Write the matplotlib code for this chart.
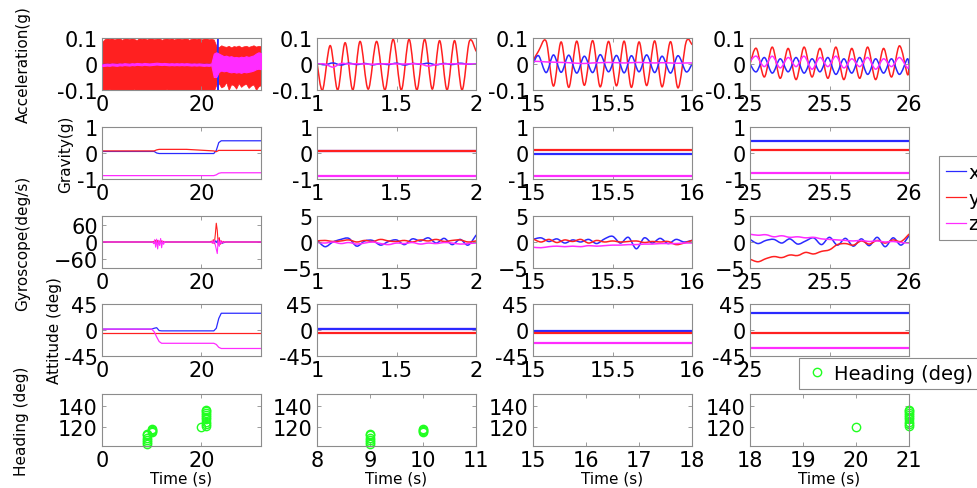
import numpy as np
import matplotlib
matplotlib.use('Agg')
import matplotlib.pyplot as plt
from matplotlib.path import Path
from matplotlib.patches import PathPatch

plt.rcParams['font.family'] = ['DejaVu Sans']

C_X = '#2a2aff'
C_Y = '#ff2020'
C_Z = '#ff2cff'
C_H = '#20ff20'

# ---------------- whole recording (0-32 s) ----------------
acc_env_t = np.arange(0, 32.5, 0.5)
acc_y_hi = [0.085, 0.095, 0.1, 0.097, 0.1, 0.094, 0.099, 0.1, 0.093, 0.098, 0.1, 0.095,
            0.1, 0.096, 0.092, 0.1, 0.097, 0.1, 0.094, 0.099, 0.1, 0.095, 0.098, 0.1,
            0.093, 0.097, 0.1, 0.096, 0.1, 0.094, 0.098, 0.1, 0.095, 0.099, 0.1, 0.093,
            0.097, 0.1, 0.096, 0.1, 0.094, 0.098, 0.1, 0.095, 0.097, 0.094,
            0.07, 0.065, 0.072, 0.068, 0.066, 0.07, 0.064, 0.069, 0.067, 0.071, 0.065,
            0.068, 0.07, 0.066, 0.069, 0.072, 0.067, 0.07, 0.068]
acc_y_lo = [-0.1, -0.104, -0.102, -0.097, -0.105, -0.103, -0.1, -0.104, -0.098, -0.105,
            -0.102, -0.104, -0.1, -0.097, -0.105, -0.103, -0.104, -0.1, -0.102, -0.105,
            -0.098, -0.104, -0.103, -0.1, -0.105, -0.102, -0.097, -0.104, -0.103, -0.105,
            -0.1, -0.102, -0.104, -0.098, -0.105, -0.103, -0.1, -0.104, -0.102, -0.105,
            -0.097, -0.103, -0.104, -0.1, -0.102, -0.104,
            -0.08, -0.075, -0.09, -0.085, -0.07, -0.1, -0.078, -0.082, -0.095, -0.074,
            -0.088, -0.08, -0.076, -0.092, -0.083, -0.079, -0.1, -0.086, -0.081]
acc_z_hi = [-0.002, 0.0, 0.001, 0.0, 0.002, 0.001, 0.0, 0.002, 0.001, 0.003, 0.002, 0.001,
            0.003, 0.002, 0.004, 0.003, 0.002, 0.004, 0.003, 0.002, 0.003, 0.004, 0.005,
            0.004, 0.003, 0.004, 0.003, 0.002, 0.003, 0.002, 0.003, 0.002, 0.003, 0.002,
            0.003, 0.002, 0.001, 0.002, 0.001, 0.002, 0.001, 0.0, 0.001, 0.0, 0.002, 0.04,
            0.045, 0.04, 0.035, 0.03, 0.032, 0.028, 0.03, 0.026, 0.027, 0.025, 0.028,
            0.026, 0.03, 0.027, 0.03, 0.033, 0.04, 0.045, 0.042]
acc_z_lo = [-0.008, -0.007, -0.006, -0.007, -0.005, -0.006, -0.007, -0.005, -0.006,
            -0.004, -0.005, -0.006, -0.004, -0.005, -0.003, -0.004, -0.005, -0.003,
            -0.004, -0.005, -0.004, -0.003, -0.002, -0.003, -0.004, -0.003, -0.004,
            -0.005, -0.004, -0.005, -0.004, -0.005, -0.004, -0.005, -0.004, -0.005,
            -0.006, -0.005, -0.006, -0.005, -0.006, -0.007, -0.006, -0.007, -0.005, -0.05,
            -0.05, -0.03, -0.025, -0.028, -0.026, -0.03, -0.032, -0.03, -0.033, -0.031,
            -0.034, -0.03, -0.032, -0.03, -0.028, -0.025, -0.02, -0.018, -0.02]
acc_x_t = [0, 23.2, 23.3, 23.35, 23.4, 23.5, 32]
acc_x_v = [-0.002, -0.002, 0.11, -0.11, 0.0, 0.0, 0.0]

grav_t = [0, 10.5, 11.0, 11.5, 17.0, 22.5, 23.0, 23.5, 24.0, 32]
grav_x = [0.06, 0.06, 0.0, -0.02, -0.02, -0.02, 0.1, 0.4, 0.47, 0.47]
grav_y = [0.08, 0.08, 0.12, 0.14, 0.14, 0.08, 0.05, 0.1, 0.1, 0.1]
grav_z = [-0.87, -0.87, -0.87, -0.87, -0.87, -0.87, -0.84, -0.78, -0.76, -0.76]

gyro_t = [0, 10.2, 10.4, 10.6, 10.8, 11.0, 11.2, 11.4, 11.6, 11.8, 12.0, 12.2, 12.4,
          12.6, 12.8, 21.8, 22.0, 22.2, 22.4, 22.6, 22.8, 23.0, 23.2, 23.4, 23.6, 23.8,
          24.0, 24.2, 24.4, 24.6, 24.8, 25.0, 32]
gyro_x = [0, 0, 1, -2, 2, -1, 3, -2, 1, -1, 2, 0, 1, 0, 0,
          0, 1, -1, 2, -3, 4, -2, 5, -5, -3, -4, -5, -4, -3, -2, -1, 0, 0]
gyro_y = [0, 0, 2, -4, 6, -3, 5, -6, 3, -2, 4, -1, 2, 0, 0,
          0, 3, -4, 8, -6, 25, 65, 40, -10, 15, -8, 4, -3, 2, 0, 0, 0, 0]
gyro_z = [0, 0, -6, 8, -18, 10, -24, 6, -12, 12, -20, 4, -8, 2, 0,
          0, -2, 3, -5, 6, -10, -25, -40, 10, -15, 5, -6, 2, -1, 0, 0, 0, 0]

att_t = [0, 10.0, 10.5, 11.0, 11.5, 12.0, 22.5, 23.0, 23.5, 24.0, 32]
att_x = [1.5, 1.5, 3.0, 4.0, -1.0, -1.5, -1.5, 3.0, 20.0, 29.0, 29.0]
att_y = [-6, -6, -6, -6, -6, -6, -6, -6, -6, -6, -6]
att_z = [1.5, 1.5, -3.0, -12.0, -20.0, -23.0, -23.0, -25.0, -30.0, -32.0, -32.0]

# heading fixes
head_t = np.array([9.0, 9.0, 9.0, 9.0, 9.0, 9.0, 10.0, 10.0, 10.0, 10.0, 20.0,
                   21.0, 21.0, 21.0, 21.0, 21.0, 21.0, 21.0, 21.0, 21.0])
head_v = np.array([104, 106, 108, 110, 112, 113, 115, 116, 117, 118, 120,
                   121, 123, 125, 127, 129, 131, 133, 135, 136])

# ---------------- one-second windows ----------------
win_t = np.linspace(0, 1, 21)

# acceleration: turning points of the vibration
acc2_t = [1.0, 1.035, 1.083, 1.13, 1.177, 1.225, 1.271, 1.322, 1.375, 1.427, 1.479,
          1.53, 1.579, 1.628, 1.677, 1.725, 1.771, 1.818, 1.865, 1.912, 1.958, 2.0]
acc2_y = [0.005, -0.1, 0.071, -0.1, 0.082, -0.1, 0.087, -0.097, 0.087, -0.1, 0.095,
          -0.1, 0.095, -0.1, 0.095, -0.097, 0.09, -0.1, 0.09, -0.1, 0.087, 0.05]
acc2_x = [0.002, -0.003, 0.004, -0.004, 0.003, -0.002, 0.002, -0.003, 0.001, -0.002,
          0.003, -0.004, 0.002, -0.001, 0.003, -0.003, 0.002, -0.002, 0.003, -0.001, 0.0]
acc2_z = [0.0, 0.0, -0.012, 0.002, 0.0, 0.001, 0.0, -0.001, 0.0, 0.001, 0.0, 0.0,
          0.001, 0.0, -0.008, -0.002, 0.0, 0.001, 0.0, 0.0, 0.0]

acc3_t = [15.0, 15.035, 15.083, 15.129, 15.177, 15.225, 15.275, 15.323, 15.375, 15.423,
          15.475, 15.525, 15.573, 15.619, 15.667, 15.715, 15.765, 15.812, 15.865,
          15.912, 15.963, 16.0]
acc3_y = [0.012, 0.05, 0.087, -0.085, 0.085, -0.09, 0.088, -0.082, 0.09, -0.088, 0.087,
          -0.084, 0.088, -0.09, 0.085, -0.083, 0.089, -0.088, 0.086, -0.092, 0.085, 0.075]
acc3_x = [0.0, 0.032, -0.033, 0.035, -0.032, 0.034, -0.035, 0.03, -0.033, 0.036, -0.03,
          0.033, -0.034, 0.032, -0.03, 0.035, -0.033, 0.03, -0.035, 0.032, -0.03, 0.0]
acc3_z = [0.01, 0.01, 0.008, 0.007, 0.006, 0.005, 0.003, 0.002, 0.004, 0.005, 0.006,
          0.005, 0.004, 0.005, 0.006, 0.005, 0.004, 0.005, 0.004, 0.003, 0.004, 0.004]

acc4_t = [25.0, 25.04, 25.09, 25.14, 25.19, 25.24, 25.29, 25.34, 25.39, 25.44, 25.49,
          25.54, 25.59, 25.64, 25.69, 25.74, 25.79, 25.84, 25.89, 25.94, 25.99, 26.0]
acc4_y = [0.0, 0.06, -0.05, 0.065, -0.055, 0.06, -0.06, 0.065, -0.05, 0.06, -0.055,
          0.065, -0.06, 0.06, -0.055, 0.065, -0.06, 0.06, -0.05, 0.07, -0.04, 0.0]
acc4_x = [0.0, -0.03, 0.025, -0.035, 0.02, -0.03, 0.025, -0.035, 0.02, -0.03, 0.025,
          -0.04, 0.02, -0.035, 0.025, -0.04, 0.02, -0.035, 0.02, -0.04, 0.02, -0.02]
acc4_z = [0.01, 0.03, -0.01, 0.03, -0.015, 0.025, -0.01, 0.03, -0.02, 0.025, -0.01,
          0.03, -0.015, 0.02, -0.01, 0.025, -0.02, 0.02, -0.01, 0.025, -0.015, 0.0]

# gravity / attitude are flat inside each window: (x, y, z)
grav_win = [(0.06, 0.08, -0.87), (-0.02, 0.1, -0.87), (0.46, 0.1, -0.76)]
att_win = [(1.5, -6, 1.5), (-1.5, -6, -23), (29, -6, -32)]

gyro2_x = [0.4, -0.9, 0.0, 0.5, 0.7, -0.8, 0.2, 0.3, -0.6, 0.1, 0.4, -0.5, 0.6, 0.2,
           0.8, -0.2, 0.7, -0.5, 0.5, -0.6, 1.3]
gyro2_y = [0.2, 0.3, 0.1, 0.2, 0.4, 0.0, 0.3, 0.1, 0.5, 0.2, 0.1, 0.3, 0.0, 0.4, 0.2,
           0.5, 0.1, 0.3, 0.4, 0.0, 0.2]
gyro2_z = [-0.1, -0.2, 0.0, -0.3, -0.1, -0.4, -0.2, 0.0, -0.3, -0.5, -0.2, -0.3, -0.1,
           -0.4, -0.2, -0.3, -0.1, -0.2, -0.4, -0.3, -0.2]
gyro3_x = [0.5, 0.8, 0.1, 0.6, -0.2, 0.4, 0.0, 0.5, -0.3, 0.6, 1.1, -0.2, 0.9, -1.3,
           0.8, -0.2, 0.7, -0.3, 0.5, 0.0, 0.3]
gyro3_y = [0.6, 0.0, 0.5, -0.1, 0.4, 0.1, 0.5, -0.2, 0.3, 0.0, 0.2, 0.0, 0.1, 0.2,
           -0.1, 0.1, 0.0, 0.1, -0.5, -0.2, 0.3]
gyro3_z = [-1.0, -1.1, -0.9, -0.8, -0.9, -0.8, -0.9, -0.7, -0.8, -0.7, -0.6, -0.6,
           -0.5, -0.5, -0.4, -0.4, -0.3, -0.3, -0.3, -0.2, -0.2]
gyro4_x = [0.5, -0.3, 0.3, 0.5, -0.2, 0.6, -0.4, 0.2, 0.8, -0.5, 0.9, -0.6, 0.7, -0.8,
           0.6, -0.7, 0.9, -0.9, 0.8, -0.6, 1.2]
gyro4_y = [-3.3, -3.8, -3.2, -2.8, -3.0, -2.5, -2.6, -2.0, -2.3, -1.8, -1.5, -0.5,
           -0.3, -0.6, 0.2, -0.4, 0.3, -0.2, 0.4, 0.1, 1.5]
gyro4_z = [1.5, 1.3, 1.4, 1.0, 1.2, 0.9, 1.0, 0.8, 0.9, 0.6, 0.5, 0.4, 0.3, 0.2, 0.3,
           0.1, 0.2, 0.0, 0.1, -0.1, -0.2]

win_start = [0, 1, 15, 25]
head_lim = [(0, 32), (8, 11), (15, 18), (18, 21)]
row_labels = ['Acceleration(g)', 'Gravity(g)', 'Gyroscope(deg/s)', 'Attitude (deg)',
              'Heading (deg)']
label_x = [-0.45, -0.18, -0.45, -0.25, -0.46]


def smooth(ax, t, v, **kw):
    # draw a polyline as a Catmull-Rom curve through its points
    t = np.asarray(t, float)
    v = np.asarray(v, float)
    n = len(t)
    verts = [(t[0], v[0])]
    codes = [Path.MOVETO]
    for i in range(n - 1):
        a = max(i - 1, 0)
        b = min(i + 2, n - 1)
        c1 = (t[i] + (t[i + 1] - t[a]) / 6, v[i] + (v[i + 1] - v[a]) / 6)
        c2 = (t[i + 1] - (t[b] - t[i]) / 6, v[i + 1] - (v[b] - v[i]) / 6)
        verts += [c1, c2, (t[i + 1], v[i + 1])]
        codes += [Path.CURVE4] * 3
    ax.add_patch(PathPatch(Path(verts, codes), fill=False, capstyle='round',
                           joinstyle='round', **kw))


# ---------------- figure ----------------
fig = plt.figure(figsize=(9.77, 4.89), dpi=100)
W, H = 977.0, 489.0
col_left = [102, 317, 533, 750]
col_w = 159
row_top = [39, 128, 217, 305, 395]
row_h = 52

axes = [[fig.add_axes([l / W, 1 - (t + row_h) / H, col_w / W, row_h / H])
         for l in col_left] for t in row_top]


def style(ax):
    for s in ax.spines.values():
        s.set_color('#8c8c8c')
        s.set_linewidth(0.8)
    ax.tick_params(direction='in', length=3, width=0.6, color='#8c8c8c',
                   top=True, right=True, labelsize=15, pad=3)


# acceleration
ax = axes[0][0]
ax.fill_between(acc_env_t, acc_y_lo, acc_y_hi, color=C_Y, lw=0.5, zorder=1)
ax.plot(acc_x_t, acc_x_v, color=C_X, lw=1, zorder=2)
ax.fill_between(acc_env_t, acc_z_lo, acc_z_hi, color=C_Z, lw=0.8, edgecolor=C_Z,
                zorder=3)
for j, (tt, vx, vy, vz) in enumerate([(1 + win_t, acc2_x, acc2_y, acc2_z),
                                      (acc3_t, acc3_x, acc3_y, acc3_z),
                                      (acc4_t, acc4_x, acc4_y, acc4_z)], start=1):
    ty = acc2_t if j == 1 else tt
    smooth(axes[0][j], ty, vy, edgecolor=C_Y, lw=1.1)
    smooth(axes[0][j], tt, vx, edgecolor=C_X, lw=1.1)
    smooth(axes[0][j], tt, vz, edgecolor=C_Z, lw=1.1)

# gravity
ax = axes[1][0]
ax.plot(grav_t, grav_x, color=C_X, lw=0.9)
ax.plot(grav_t, grav_y, color=C_Y, lw=0.9)
ax.plot(grav_t, grav_z, color=C_Z, lw=0.9)
for j in range(1, 4):
    s = win_start[j]
    gx, gy, gz = grav_win[j - 1]
    axes[1][j].plot([s, s + 1], [gx, gx], color=C_X, lw=1.6)
    axes[1][j].plot([s, s + 1], [gy, gy], color=C_Y, lw=1.6)
    axes[1][j].plot([s, s + 1], [gz, gz], color=C_Z, lw=1.6)

# gyroscope
ax = axes[2][0]
ax.plot(gyro_t, gyro_x, color=C_X, lw=0.8)
ax.plot(gyro_t, gyro_y, color=C_Y, lw=0.8)
ax.plot(gyro_t, gyro_z, color=C_Z, lw=0.8)
for j, gx, gy, gz in [(1, gyro2_x, gyro2_y, gyro2_z),
                      (2, gyro3_x, gyro3_y, gyro3_z),
                      (3, gyro4_x, gyro4_y, gyro4_z)]:
    s = win_start[j]
    smooth(axes[2][j], s + win_t, gx, edgecolor=C_X, lw=1.1)
    smooth(axes[2][j], s + win_t, gy, edgecolor=C_Y, lw=1.1)
    smooth(axes[2][j], s + win_t, gz, edgecolor=C_Z, lw=1.1)

# attitude
ax = axes[3][0]
ax.plot(att_t, att_x, color=C_X, lw=0.9)
ax.plot(att_t, att_y, color=C_Y, lw=0.9)
ax.plot(att_t, att_z, color=C_Z, lw=0.9)
for j in range(1, 4):
    s = win_start[j]
    ax_, ay_, az_ = att_win[j - 1]
    axes[3][j].plot([s, s + 1], [az_, az_], color=C_Z, lw=1.6)
    axes[3][j].plot([s, s + 1], [ax_, ax_], color=C_X, lw=1.6)
    axes[3][j].plot([s, s + 1], [ay_, ay_], color=C_Y, lw=1.6)

# heading
for j in range(4):
    a = axes[4][j]
    lo, hi = head_lim[j]
    keep = (head_t >= lo) & (head_t <= hi)
    a.plot(head_t[keep], head_v[keep], 'o', ms=6, mfc='none', mec=C_H, mew=1,
           clip_on=False)
    a.set_xlim(lo, hi)
    a.set_ylim(102, 151)
    a.set_yticks([120, 140])
    a.set_xlabel('Time (s)', fontsize=11, labelpad=0)
axes[4][0].set_xticks([0, 20])
for j in range(1, 4):
    lo, hi = head_lim[j]
    axes[4][j].set_xticks(list(range(lo, hi + 1)))

# limits and ticks for the upper rows
ylims = [(-0.1, 0.1), (-1, 1), None, (-45, 45)]
yticks = [[-0.1, 0, 0.1], [-1, 0, 1], None, [-45, 0, 45]]
for i in range(4):
    for j in range(4):
        a = axes[i][j]
        if j == 0:
            a.set_xlim(0, 32)
            a.set_xticks([0, 20])
        else:
            s = win_start[j]
            a.set_xlim(s, s + 1)
            a.set_xticks([s, s + 0.5, s + 1])
            a.set_xticklabels([f'{s:g}', f'{s + 0.5:g}', f'{s + 1:g}'])
        if i == 2:
            if j == 0:
                a.set_ylim(-90, 90)
                a.set_yticks([-60, 0, 60])
            else:
                a.set_ylim(-5, 5)
                a.set_yticks([-5, 0, 5])
        else:
            a.set_ylim(*ylims[i])
            a.set_yticks(yticks[i])
            a.set_yticklabels([f'{v:g}' for v in yticks[i]])

for i in range(5):
    for j in range(4):
        style(axes[i][j])
    axes[i][0].set_ylabel(row_labels[i], fontsize=11)
    axes[i][0].yaxis.set_label_coords(label_x[i], 0.5)

# legends
lines = axes[1][0].get_lines()
leg = fig.legend(lines, ['x', 'y', 'z'], loc='upper left',
                 bbox_to_anchor=(939 / W, 1 - 157 / H), fontsize=14,
                 handlelength=1.05, handletextpad=0.1, labelspacing=0.35,
                 borderaxespad=0, borderpad=0.35, fancybox=False,
                 edgecolor='#8c8c8c', framealpha=1)
leg.get_frame().set_linewidth(0.8)
hleg = fig.legend(axes[4][3].get_lines(), ['Heading (deg)'], loc='upper left',
                  bbox_to_anchor=(799 / W, 1 - 359 / H), fontsize=14,
                  handlelength=1.2, handletextpad=0.3, borderaxespad=0,
                  borderpad=0.3, fancybox=False, edgecolor='#8c8c8c', framealpha=1)
hleg.get_frame().set_linewidth(0.8)

fig.savefig('out.png', dpi=100)
